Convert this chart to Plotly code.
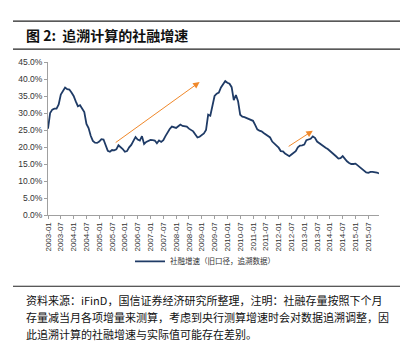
import plotly.graph_objects as go

# ---- data ----
start_year, start_month = 2003, 1
growth = [
    25.4, 30.0, 31.0, 31.3, 31.3, 32.5, 35.4, 36.3, 37.5, 37.0, 36.9, 36.0,
    35.0, 33.4, 32.0, 32.3, 31.4, 30.3, 26.8, 25.6, 23.3, 21.8, 21.3, 21.2,
    21.6, 22.3, 22.2, 20.5, 18.9, 18.6, 19.1, 19.0, 19.3, 20.5, 20.0, 19.4,
    18.6, 18.8, 19.9, 20.6, 21.8, 22.9, 22.2, 21.9, 23.2, 20.9, 21.5, 21.9,
    22.1, 22.0, 21.9, 21.1, 21.9, 21.5, 22.0, 23.2, 24.5, 25.3, 26.0, 25.9,
    25.6, 26.1, 26.6, 26.2, 26.0, 26.0, 25.4, 25.1, 24.6, 23.7, 22.8, 23.0,
    23.4, 24.0, 25.0, 29.5, 29.2, 32.0, 35.0, 35.7, 36.0, 37.5, 38.6, 39.4,
    38.9, 38.6, 37.6, 33.8, 35.3, 33.5, 29.5, 28.9, 28.8, 28.5, 28.3, 28.1,
    27.7, 26.5, 25.2, 24.8, 24.6, 24.1, 23.7, 23.2, 22.8, 21.6, 21.0, 20.6,
    19.8, 18.8, 18.7, 18.1, 17.6, 17.3, 17.8, 18.3, 18.8, 19.9, 20.4, 20.5,
    20.7, 22.0, 22.3, 22.4, 23.1, 22.7, 21.6, 21.1, 20.8, 20.2, 19.8, 19.4,
    18.9, 18.3, 17.7, 17.2, 16.6, 16.7, 17.3, 16.4, 15.8, 15.3, 15.0, 15.0,
    15.1, 14.6, 14.1, 13.5, 12.9, 12.5, 12.4, 12.7, 12.7, 12.7, 12.5, 12.2,
]
months = []
for i in range(len(growth)):
    y = start_year + (start_month - 1 + i) // 12
    m = (start_month - 1 + i) % 12 + 1
    months.append(f"{y}-{m:02d}")
tick_labels = months[::6]
y_ticks = [0, 5, 10, 15, 20, 25, 30, 35, 40, 45]
series_name = "社融增速（旧口径，追溯数据）"
title_text = "图 2:  追溯计算的社融增速"
note_lines = [
    "资料来源：iFinD，国信证券经济研究所整理，注明：社融存量按照下个月",
    "存量减当月各项增量来测算，考虑到央行测算增速时会对数据追溯调整，因",
    "此追溯计算的社融增速与实际值可能存在差别。",
]

W, H = 412, 350
L, R, T, B = 48, 33, 62, 134.5
PH = H - T - B
PW = W - L - R

def py(p):  # pixel y -> paper y
    return (H - B - p) / PH

def px(p):  # pixel x -> paper x
    return (p - L) / PW

fig = go.Figure()
fig.add_trace(go.Scatter(
    x=months, y=growth, mode="lines", name=series_name,
    line=dict(color="#1F3B66", width=1.8), showlegend=True,
))

axis_color = "#A0A0A0"
fig.update_layout(
    width=W, height=H,
    margin=dict(l=L, r=R, t=T, b=B),
    paper_bgcolor="white", plot_bgcolor="white",
    font=dict(family="Liberation Sans, Noto Sans CJK SC", color="#222"),
    xaxis=dict(
        type="category", range=[0, len(months) - 1],
        tickmode="array", tickvals=tick_labels, ticktext=tick_labels,
        tickangle=-90, tickfont=dict(size=8, color="#333"),
        showline=True, linecolor=axis_color, linewidth=1,
        ticks="outside", ticklen=3, tickcolor=axis_color,
        showgrid=False, zeroline=False,
    ),
    yaxis=dict(
        range=[0, 45], tickmode="array", tickvals=y_ticks,
        ticktext=[f"{v:.1f}%" for v in y_ticks],
        tickfont=dict(size=8.5, color="#333"),
        showline=True, linecolor=axis_color, linewidth=1,
        ticks="outside", ticklen=3, tickcolor=axis_color,
        showgrid=False, zeroline=False,
    ),
    legend=dict(
        orientation="h", x=px(205), xanchor="center", y=py(262), yanchor="middle",
        font=dict(size=7.5, family="Noto Sans CJK SC", color="#333"),
        bgcolor="rgba(0,0,0,0)",
    ),
)

# arrows
arrow_color = "#F0882A"
for (x0, y0, x1, y1) in [(months[31], 21.0, months[71], 39.1),
                         (months[112], 19.9, months[124], 24.8)]:
    fig.add_annotation(
        x=x1, y=y1, ax=x0, ay=y0, xref="x", yref="y", axref="x", ayref="y",
        showarrow=True, arrowhead=2, arrowsize=1.3, arrowwidth=1,
        arrowcolor=arrow_color, text="",
    )

# title bar lines
for yy in (21, 49, 287):
    fig.add_shape(type="line", xref="paper", yref="paper",
                  x0=px(13), x1=px(400), y0=py(yy), y1=py(yy),
                  line=dict(color="#222", width=1.2))

fig.add_annotation(
    text="<b>" + title_text + "</b>", xref="paper", yref="paper",
    x=px(24), y=py(35), xanchor="left", yanchor="middle", showarrow=False,
    font=dict(size=14, family="Noto Sans CJK SC", color="#111"),
)

for i, line in enumerate(note_lines):
    fig.add_annotation(
        text=line, xref="paper", yref="paper",
        x=px(24), y=py(301 + 17 * i), xanchor="left", yanchor="middle",
        showarrow=False,
        font=dict(size=11, family="Noto Sans CJK SC", color="#111"),
    )

fig.write_html("out.html")
